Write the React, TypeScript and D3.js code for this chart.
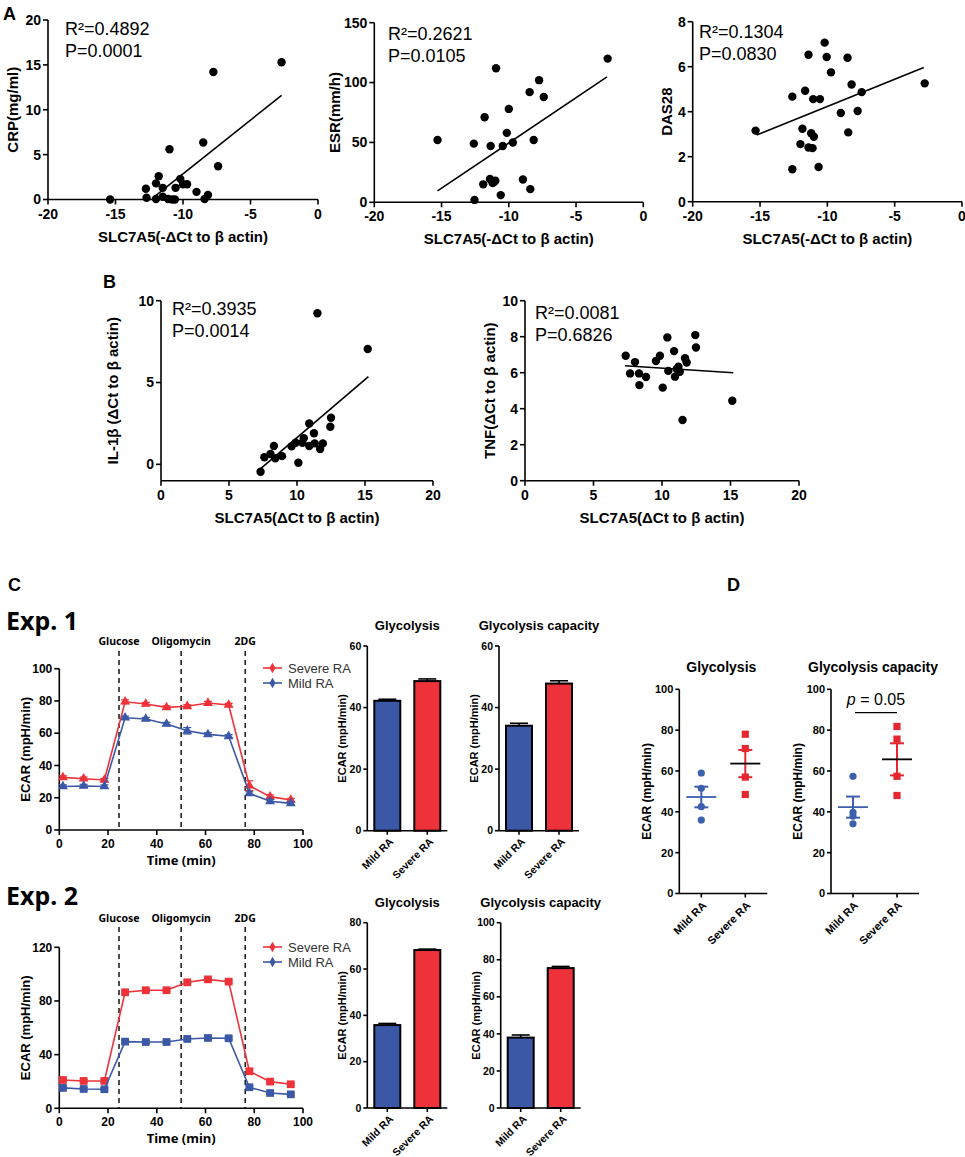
import React from "react";
import * as d3 from "d3";

const ARIAL = "'Liberation Sans', Arial, Helvetica, sans-serif";
const GOTHIC = "'Noto Sans', 'Open Sans', sans-serif";
const RED = "#ed3239";
const BLUE = "#3b58a6";
const DRED = "#e6262f";
const DBLUE = "#3c5fae";

// ---- panel A: clinical markers vs SLC7A5 (-dCt to b actin) ----
const crpSlc = [-15.4, -12.75, -12.7, -12.0, -11.8, -12.0, -11.5, -11.5, -11.1, -10.8, -11.0, -10.55, -10.6, -10.2, -10.0, -9.7, -9.0, -8.5, -8.4, -8.15, -7.75, -7.4, -2.7];
const crpVal = [0.0, 1.2, 0.2, 1.8, 2.6, 0.05, 1.3, 0.3, 0.05, 0.0, 5.6, 1.3, 0.0, 2.3, 1.7, 1.7, 0.85, 6.35, 0.05, 0.5, 14.2, 3.7, 15.3];
const crpFitX = [-12.3, -2.7];
const crpFitY = [0.1, 11.6];

const esrSlc = [-15.3, -12.6, -12.55, -11.8, -11.9, -11.4, -11.35, -11.2, -11.0, -11.1, -10.95, -10.6, -10.45, -10.0, -10.15, -9.7, -8.95, -8.45, -8.4, -8.15, -7.75, -7.4, -2.65];
const esrVal = [52, 49, 2, 71, 15, 19.5, 47, 16, 18, 17, 112, 6, 47, 78, 58, 50, 19, 92, 11, 52, 102, 88, 120];
const esrFitX = [-15.3, -2.7];
const esrFitY = [9.5, 104.7];

const dasSlc = [-15.33, -12.6, -12.6, -11.85, -12.0, -11.65, -11.4, -11.4, -11.2, -11.0, -11.1, -11.05, -10.55, -10.65, -10.2, -10.05, -9.73, -9.0, -8.5, -8.45, -8.2, -7.75, -7.45, -2.77];
const dasVal = [3.16, 4.67, 1.44, 3.24, 2.56, 4.93, 6.53, 2.41, 3.04, 2.89, 2.38, 4.56, 4.56, 1.54, 7.07, 6.43, 5.75, 3.94, 6.4, 3.08, 5.21, 4.03, 4.87, 5.26];
const dasFitX = [-15.26, -2.84];
const dasFitY = [2.96, 5.96];

// ---- panel B: cytokines vs SLC7A5 (dCt) ----
const il1bSlc = [7.32, 7.6, 8.05, 8.3, 8.4, 8.9, 9.6, 9.9, 10.1, 10.5, 10.4, 10.9, 10.9, 11.25, 11.3, 11.5, 11.7, 11.9, 12.5, 12.45, 15.2];
const il1bVal = [-0.45, 0.43, 0.63, 1.12, 0.37, 0.5, 1.1, 1.32, 0.1, 1.6, 1.32, 2.5, 1.12, 1.9, 1.28, 9.23, 0.94, 1.28, 2.85, 2.3, 7.05];
const il1bFitX = [7.2, 15.25];
const il1bFitY = [-0.35, 5.36];

const tnfSlc = [7.35, 7.67, 8.03, 8.32, 8.35, 8.83, 9.56, 9.85, 10.05, 10.39, 10.46, 10.88, 10.95, 11.07, 11.2, 11.3, 11.5, 11.68, 11.8, 12.43, 12.48, 15.13];
const tnfVal = [6.94, 5.96, 6.59, 5.96, 5.31, 5.76, 6.65, 6.94, 5.17, 7.96, 6.1, 7.2, 5.78, 6.2, 6.33, 6.05, 3.37, 6.8, 6.57, 8.09, 7.4, 4.44];
const tnfFitX = [7.3, 15.2];
const tnfFitY = [6.39, 6.0];

// ---- panel C: seahorse ECAR traces ----
const timeMin = [1.5, 10, 18.5, 27, 35.5, 44, 52.5, 61, 69.5, 78, 86.5, 95];
const injections = ["Glucose", "Oligomycin", "2DG"];
const injectionTimes = [24.5, 50, 76.3];
const groups = ["Mild RA", "Severe RA"];

const exp1Severe = [32.6, 31.8, 31.0, 79.5, 78.1, 76.0, 76.7, 78.7, 77.5, 27.5, 20.7, 18.6];
const exp1SevereErr = [1, 1, 1, 1.2, 1, 1, 1, 1, 1, 3, 1, 1];
const exp1Mild = [27.0, 27.3, 27.0, 69.6, 68.8, 65.7, 61.5, 59.3, 58.1, 22.7, 17.8, 16.5];
const exp1MildErr = [1, 1, 1, 1, 1, 1, 2, 1, 1, 1, 1, 1];

const exp2Severe = [21.1, 20.4, 20.4, 86.5, 88, 88, 93.9, 96.1, 94.4, 27.6, 19.9, 17.9];
const exp2SevereErr = [1, 1, 1, 1, 1, 1, 1, 1, 1, 2, 1, 1];
const exp2Mild = [15.2, 14.4, 14.2, 49.7, 49.4, 49.4, 51.7, 52.4, 52.2, 15.7, 11.4, 10.4];
const exp2MildErr = [1, 1, 1, 1, 1, 1, 1, 1, 1, 1, 1, 1];

// bar summaries [mild, severe]
const exp1Glyc = [42.2, 48.6];
const exp1GlycErr = [0.5, 0.7];
const exp1Cap = [34.1, 47.8];
const exp1CapErr = [0.8, 0.9];
const exp2Glyc = [35.8, 68.2];
const exp2GlycErr = [0.7, 0.4];
const exp2Cap = [38.0, 75.5];
const exp2CapErr = [1.4, 0.9];

// ---- panel D: individual patients ----
const dGlycMild = [59, 51.5, 42.5, 36];
const dGlycSevere = [78, 71, 57, 48.5];
const dCapMild = [57.4, 39.8, 37.9, 34.1];
const dCapSevere = [81.8, 75.6, 57.4, 48];

const SW = 1.6;

type ScatterProps = {
  left: number; right: number; top: number; bottom: number;
  xDomain: [number, number]; yDomain: [number, number];
  xTicks: number[]; yTicks: number[];
  xs: number[]; ys: number[]; fitX: number[]; fitY: number[];
  r2: string; p: string; statX: number; statY: number;
  xTitle: string; yTitle: string; yTitleX: number;
};

function Scatter(p: ScatterProps) {
  const x = d3.scaleLinear().domain(p.xDomain).range([p.left, p.right]);
  const y = d3.scaleLinear().domain(p.yDomain).range([p.bottom, p.top]);
  const fit = d3.line<number>().x((i) => x(p.fitX[i])).y((i) => y(p.fitY[i]));
  return (
    <g>
      <line x1={p.left} x2={p.left} y1={p.bottom} y2={p.top} stroke="#000" strokeWidth={SW} />
      <line x1={p.left} x2={p.right} y1={p.bottom} y2={p.bottom} stroke="#000" strokeWidth={SW} />
      {p.yTicks.map((t) => (
        <g key={"y" + t}>
          <line x1={p.left - 5} x2={p.left} y1={y(t)} y2={y(t)} stroke="#000" strokeWidth={SW} />
          <text x={p.left - 7} y={y(t)} dy="0.35em" textAnchor="end" fontSize={14} fontWeight="bold">{t}</text>
        </g>
      ))}
      {p.xTicks.map((t) => (
        <g key={"x" + t}>
          <line x1={x(t)} x2={x(t)} y1={p.bottom} y2={p.bottom + 5} stroke="#000" strokeWidth={SW} />
          <text x={x(t)} y={p.bottom + 19} textAnchor="middle" fontSize={14} fontWeight="bold">{t}</text>
        </g>
      ))}
      <text x={(p.left + p.right) / 2} y={p.bottom + 42} textAnchor="middle" fontSize={15} fontWeight="bold">{p.xTitle}</text>
      <text transform={`translate(${p.yTitleX},${(p.top + p.bottom) / 2}) rotate(-90)`} textAnchor="middle" dy="0.35em" fontSize={15} fontWeight="bold">{p.yTitle}</text>
      <path d={fit([0, 1]) || ""} stroke="#000" strokeWidth={1.6} fill="none" />
      {p.xs.map((v, i) => (
        <circle key={i} cx={x(v)} cy={y(p.ys[i])} r={4.2} fill="#000" />
      ))}
      <text x={p.statX} y={p.statY} fontSize={18}>R²={p.r2}</text>
      <text x={p.statX} y={p.statY + 22} fontSize={18}>P={p.p}</text>
    </g>
  );
}

type SeahorseProps = {
  top: number; bottom: number; yMax: number; yTicks: number[];
  severe: number[]; severeErr: number[]; mild: number[]; mildErr: number[];
  marker: d3.SymbolType; markerSize: number; labelY: number; dashTop: number; legendY: number;
};

function Seahorse(p: SeahorseProps) {
  const x = d3.scaleLinear().domain([0, 100]).range([59.3, 303]);
  const y = d3.scaleLinear().domain([0, p.yMax]).range([p.bottom, p.top]);
  const line = d3.line<number>().x((d, i) => x(timeMin[i])).y((d) => y(d));
  const sym = d3.symbol().type(p.marker).size(p.markerSize)() || "";
  const diamond = d3.symbol().type(d3.symbolDiamond).size(32)() || "";
  const series = [
    { vals: p.severe, err: p.severeErr, color: RED, name: "Severe RA" },
    { vals: p.mild, err: p.mildErr, color: BLUE, name: "Mild RA" },
  ];
  return (
    <g>
      {injections.map((name, i) => (
        <g key={name}>
          <line x1={x(injectionTimes[i])} x2={x(injectionTimes[i])} y1={p.dashTop} y2={p.bottom} stroke="#222" strokeWidth={1.6} strokeDasharray="5,4" />
          <text x={x(injectionTimes[i])} y={p.labelY} textAnchor="middle" fontFamily={GOTHIC} fontWeight="bold" fontSize={10.5}>{name}</text>
        </g>
      ))}
      <line x1={x(0)} x2={x(0)} y1={p.bottom} y2={p.top} stroke="#000" strokeWidth={SW} />
      <line x1={x(0)} x2={x(100)} y1={p.bottom} y2={p.bottom} stroke="#000" strokeWidth={SW} />
      {p.yTicks.map((t) => (
        <g key={"y" + t}>
          <line x1={x(0) - 5} x2={x(0)} y1={y(t)} y2={y(t)} stroke="#000" strokeWidth={SW} />
          <text x={x(0) - 7} y={y(t)} dy="0.35em" textAnchor="end" fontSize={12} fontWeight="bold">{t}</text>
        </g>
      ))}
      {d3.range(0, 101, 20).map((t) => (
        <g key={"x" + t}>
          <line x1={x(t)} x2={x(t)} y1={p.bottom} y2={p.bottom + 5} stroke="#000" strokeWidth={SW} />
          <text x={x(t)} y={p.bottom + 18} textAnchor="middle" fontSize={12} fontWeight="bold">{t}</text>
        </g>
      ))}
      <text x={(x(0) + x(100)) / 2} y={p.bottom + 35} textAnchor="middle" fontFamily={GOTHIC} fontWeight="bold" fontSize={13}>Time (min)</text>
      <text transform={`translate(25,${(p.top + p.bottom) / 2}) rotate(-90)`} textAnchor="middle" dy="0.35em" fontSize={13} fontWeight="bold">ECAR (mpH/min)</text>
      {series.map((s) => (
        <g key={s.name}>
          <path d={line(s.vals) || ""} stroke={s.color} strokeWidth={1.6} fill="none" />
          {s.vals.map((v, i) => (
            <g key={i}>
              <line x1={x(timeMin[i])} x2={x(timeMin[i])} y1={y(v - s.err[i])} y2={y(v + s.err[i])} stroke={s.color} strokeWidth={1.2} />
              <line x1={x(timeMin[i]) - 4} x2={x(timeMin[i]) + 4} y1={y(v + s.err[i])} y2={y(v + s.err[i])} stroke={s.color} strokeWidth={1.2} />
              <line x1={x(timeMin[i]) - 4} x2={x(timeMin[i]) + 4} y1={y(v - s.err[i])} y2={y(v - s.err[i])} stroke={s.color} strokeWidth={1.2} />
              <path d={sym} transform={`translate(${x(timeMin[i])},${y(v)})`} fill={s.color} />
            </g>
          ))}
        </g>
      ))}
      {series.map((s, i) => (
        <g key={"lg" + s.name} transform={`translate(0,${p.legendY + i * 15})`}>
          <line x1={263} x2={282} y1={0} y2={0} stroke={s.color} strokeWidth={1.6} />
          <path d={diamond} transform="translate(272.5,0)" fill={s.color} />
          <text x={288} y={0} dy="0.35em" fontSize={13} fill="#333">{s.name}</text>
        </g>
      ))}
    </g>
  );
}

type BarProps = {
  x0: number; top: number; bottom: number; max: number; ticks: number[];
  values: number[]; errs: number[]; title: string; titleY: number;
};

function Bars(p: BarProps) {
  const x = d3.scaleBand<string>().domain(groups).range([p.x0, p.x0 + 80]).paddingInner(0.35).paddingOuter(0.175);
  const y = d3.scaleLinear().domain([0, p.max]).range([p.bottom, p.top]);
  const colors = [BLUE, RED];
  return (
    <g>
      <text x={p.x0 + 40} y={p.titleY} textAnchor="middle" fontSize={13} fontWeight="bold">{p.title}</text>
      {groups.map((g, i) => {
        const bx = x(g) || 0;
        const cx = bx + x.bandwidth() / 2;
        return (
          <g key={g}>
            <line x1={cx} x2={cx} y1={y(p.values[i])} y2={y(p.values[i] + p.errs[i])} stroke="#000" strokeWidth={1.6} />
            <line x1={cx - 9} x2={cx + 9} y1={y(p.values[i] + p.errs[i])} y2={y(p.values[i] + p.errs[i])} stroke="#000" strokeWidth={1.6} />
            <rect x={bx} y={y(p.values[i])} width={x.bandwidth()} height={p.bottom - y(p.values[i])} fill={colors[i]} stroke="#000" strokeWidth={2} />
            <line x1={cx} x2={cx} y1={p.bottom} y2={p.bottom + 4} stroke="#000" strokeWidth={SW} />
            <text transform={`translate(${cx + 4},${p.bottom + 9}) rotate(-45)`} textAnchor="end" dy="0.35em" fontSize={10.5} fontWeight="bold">{g}</text>
          </g>
        );
      })}
      <line x1={p.x0} x2={p.x0} y1={p.bottom} y2={p.top} stroke="#000" strokeWidth={SW} />
      <line x1={p.x0} x2={p.x0 + 80} y1={p.bottom} y2={p.bottom} stroke="#000" strokeWidth={SW} />
      {p.ticks.map((t) => (
        <g key={t}>
          <line x1={p.x0 - 4} x2={p.x0} y1={y(t)} y2={y(t)} stroke="#000" strokeWidth={SW} />
          <text x={p.x0 - 6} y={y(t)} dy="0.35em" textAnchor="end" fontSize={10.5} fontWeight="bold">{t}</text>
        </g>
      ))}
      <text transform={`translate(${p.x0 - 25},${(p.top + p.bottom) / 2}) rotate(-90)`} textAnchor="middle" dy="0.35em" fontSize={11} fontWeight="bold">ECAR (mpH/min)</text>
    </g>
  );
}

type DotProps = { x0: number; mild: number[]; severe: number[]; title: string; showP: boolean };

function Dots(p: DotProps) {
  const top = 689.3;
  const bottom = 893.5;
  const x = d3.scalePoint<string>().domain(groups).range([p.x0 + 22, p.x0 + 66]);
  const y = d3.scaleLinear().domain([0, 100]).range([bottom, top]);
  const sets = [
    { g: groups[0], vals: p.mild, color: DBLUE },
    { g: groups[1], vals: p.severe, color: DRED },
  ];
  const sq = d3.symbol().type(d3.symbolSquare).size(52)() || "";
  return (
    <g>
      <text x={p.x0 + 42} y={672} textAnchor="middle" fontSize={14} fontWeight="bold">{p.title}</text>
      <line x1={p.x0} x2={p.x0} y1={bottom} y2={top} stroke="#000" strokeWidth={SW} />
      <line x1={p.x0} x2={p.x0 + 88} y1={bottom} y2={bottom} stroke="#000" strokeWidth={SW} />
      {d3.range(0, 101, 20).map((t) => (
        <g key={t}>
          <line x1={p.x0 - 4} x2={p.x0} y1={y(t)} y2={y(t)} stroke="#000" strokeWidth={SW} />
          <text x={p.x0 - 6} y={y(t)} dy="0.35em" textAnchor="end" fontSize={11} fontWeight="bold">{t}</text>
        </g>
      ))}
      <text transform={`translate(${p.x0 - 33},${(top + bottom) / 2}) rotate(-90)`} textAnchor="middle" dy="0.35em" fontSize={12} fontWeight="bold">ECAR (mpH/min)</text>
      {sets.map((s, k) => {
        const cx = x(s.g) || 0;
        const m = d3.mean(s.vals) || 0;
        const sem = (d3.deviation(s.vals) || 0) / Math.sqrt(s.vals.length);
        return (
          <g key={s.g}>
            <line x1={cx} x2={cx} y1={bottom} y2={bottom + 4} stroke="#000" strokeWidth={SW} />
            <text transform={`translate(${cx + 3},${bottom + 10}) rotate(-45)`} textAnchor="end" dy="0.35em" fontSize={11} fontWeight="bold">{s.g}</text>
            {s.vals.map((v, i) =>
              k === 0 ? (
                <circle key={i} cx={cx} cy={y(v)} r={3.6} fill={s.color} />
              ) : (
                <path key={i} d={sq} transform={`translate(${cx},${y(v)})`} fill={s.color} />
              )
            )}
            <line x1={cx} x2={cx} y1={y(m - sem)} y2={y(m + sem)} stroke={s.color} strokeWidth={2} />
            <line x1={cx - 7} x2={cx + 7} y1={y(m + sem)} y2={y(m + sem)} stroke={s.color} strokeWidth={2} />
            <line x1={cx - 7} x2={cx + 7} y1={y(m - sem)} y2={y(m - sem)} stroke={s.color} strokeWidth={2} />
            <line x1={cx - 15} x2={cx + 15} y1={y(m)} y2={y(m)} stroke={k === 0 ? DBLUE : "#000"} strokeWidth={1.8} />
          </g>
        );
      })}
      {p.showP && (
        <g>
          <line x1={(x(groups[0]) || 0) + 2} x2={x(groups[1]) || 0} y1={712.7} y2={712.7} stroke="#000" strokeWidth={1.3} />
          <text x={((x(groups[0]) || 0) + (x(groups[1]) || 0)) / 2 + 1} y={705} textAnchor="middle" fontSize={16}>
            <tspan fontStyle="italic">p</tspan> = 0.05
          </text>
        </g>
      )}
    </g>
  );
}

export default function App() {
  const slcMinus = "SLC7A5(-ΔCt to β actin)";
  const slc = "SLC7A5(ΔCt to β actin)";
  return (
    <svg width={965} height={1157} style={{ position: "absolute", left: 0, top: 0, background: "#fff" }} fontFamily={ARIAL}>
      <text x={3} y={20} fontSize={18} fontWeight="bold">A</text>
      <Scatter left={48} right={318} top={20} bottom={199.5} xDomain={[-20, 0]} yDomain={[0, 20]}
        xTicks={[-20, -15, -10, -5, 0]} yTicks={[0, 5, 10, 15, 20]} xs={crpSlc} ys={crpVal}
        fitX={crpFitX} fitY={crpFitY} r2="0.4892" p="0.0001" statX={65} statY={35}
        xTitle={slcMinus} yTitle="CRP(mg/ml)" yTitleX={13} />
      <Scatter left={374.3} right={643.3} top={22.7} bottom={202.3} xDomain={[-20, 0]} yDomain={[0, 150]}
        xTicks={[-20, -15, -10, -5, 0]} yTicks={[0, 50, 100, 150]} xs={esrSlc} ys={esrVal}
        fitX={esrFitX} fitY={esrFitY} r2="0.2621" p="0.0105" statX={388} statY={40}
        xTitle={slcMinus} yTitle="ESR(mm/h)" yTitleX={335} />
      <Scatter left={692.7} right={962} top={21.7} bottom={201.7} xDomain={[-20, 0]} yDomain={[0, 8]}
        xTicks={[-20, -15, -10, -5, 0]} yTicks={[0, 2, 4, 6, 8]} xs={dasSlc} ys={dasVal}
        fitX={dasFitX} fitY={dasFitY} r2="0.1304" p="0.0830" statX={699} statY={38}
        xTitle={slcMinus} yTitle="DAS28" yTitleX={667} />

      <text x={103} y={288} fontSize={18} fontWeight="bold">B</text>
      <Scatter left={161} right={433} top={300.7} bottom={480.7} xDomain={[0, 20]} yDomain={[-1, 10]}
        xTicks={[0, 5, 10, 15, 20]} yTicks={[0, 5, 10]} xs={il1bSlc} ys={il1bVal}
        fitX={il1bFitX} fitY={il1bFitY} r2="0.3935" p="0.0014" statX={172} statY={315}
        xTitle={slc} yTitle="IL-1β (ΔCt to β actin)" yTitleX={113} />
      <Scatter left={525} right={799} top={300.7} bottom={480.7} xDomain={[0, 20]} yDomain={[0, 10]}
        xTicks={[0, 5, 10, 15, 20]} yTicks={[0, 2, 4, 6, 8, 10]} xs={tnfSlc} ys={tnfVal}
        fitX={tnfFitX} fitY={tnfFitY} r2="0.0081" p="0.6826" statX={535} statY={319}
        xTitle={slc} yTitle="TNF(ΔCt to β actin)" yTitleX={490} />

      <text x={8} y={591} fontSize={18} fontWeight="bold">C</text>
      <text x={727} y={591} fontSize={18} fontWeight="bold">D</text>

      <text x={6} y={630} fontFamily={GOTHIC} fontWeight="bold" fontSize={25}>Exp. 1</text>
      <Seahorse top={668.7} bottom={830} yMax={100} yTicks={[0, 20, 40, 60, 80, 100]}
        severe={exp1Severe} severeErr={exp1SevereErr} mild={exp1Mild} mildErr={exp1MildErr}
        marker={d3.symbolTriangle} markerSize={42} labelY={645} dashTop={651} legendY={668} />
      <Bars x0={367.3} top={646} bottom={830.7} max={60} ticks={[0, 20, 40, 60]} values={exp1Glyc} errs={exp1GlycErr} title="Glycolysis" titleY={630} />
      <Bars x0={499} top={646} bottom={830.7} max={60} ticks={[0, 20, 40, 60]} values={exp1Cap} errs={exp1CapErr} title="Glycolysis capacity" titleY={630} />

      <text x={6} y={905} fontFamily={GOTHIC} fontWeight="bold" fontSize={25}>Exp. 2</text>
      <Seahorse top={947.3} bottom={1108.3} yMax={120} yTicks={[0, 40, 80, 120]}
        severe={exp2Severe} severeErr={exp2SevereErr} mild={exp2Mild} mildErr={exp2MildErr}
        marker={d3.symbolSquare} markerSize={60} labelY={922} dashTop={927} legendY={947} />
      <Bars x0={367.3} top={922.7} bottom={1108} max={80} ticks={[0, 20, 40, 60, 80]} values={exp2Glyc} errs={exp2GlycErr} title="Glycolysis" titleY={907} />
      <Bars x0={500.7} top={922.7} bottom={1108} max={100} ticks={[0, 20, 40, 60, 80, 100]} values={exp2Cap} errs={exp2CapErr} title="Glycolysis capacity" titleY={907} />

      <Dots x0={679.3} mild={dGlycMild} severe={dGlycSevere} title="Glycolysis" showP={false} />
      <Dots x0={831} mild={dCapMild} severe={dCapSevere} title="Glycolysis capacity" showP={true} />
    </svg>
  );
}
